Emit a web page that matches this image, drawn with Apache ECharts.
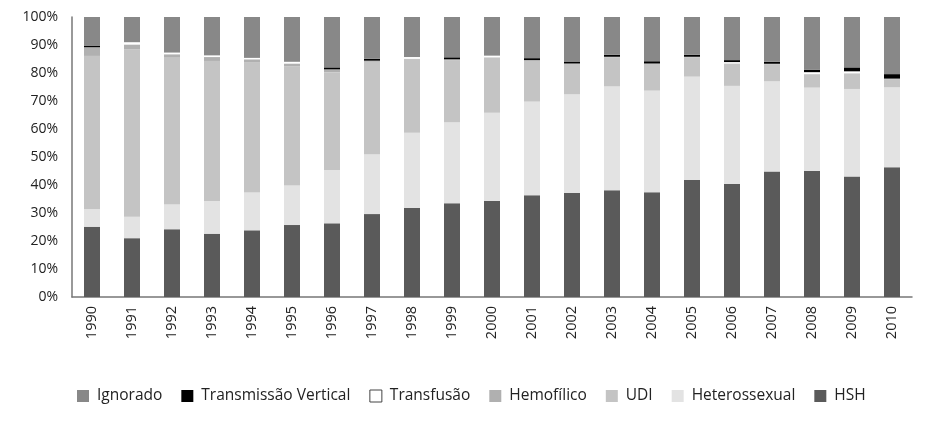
<!DOCTYPE html>
<html>
<head>
<meta charset="utf-8">
<script src="https://cdn.jsdelivr.net/npm/echarts@6/dist/echarts.min.js"></script>
<style>html,body{margin:0;padding:0;background:#fff}#c{width:927px;height:425px}</style>
</head>
<body>
<div id="c"></div>
<script>
const years = ['1990','1991','1992','1993','1994','1995','1996','1997','1998','1999','2000','2001','2002','2003','2004','2005','2006','2007','2008','2009','2010'];
const hsh      = [25.1,21.0,24.2,22.6,23.8,25.7,26.3,29.6,31.8,33.5,34.3,36.3,37.1,38.1,37.4,41.8,40.4,44.8,45.0,43.0,46.3];
const hetero   = [6.2,7.7,8.8,11.7,13.5,14.1,19.1,21.4,26.9,28.9,31.5,33.5,35.3,37.1,36.3,36.9,35.0,32.3,29.8,31.3,28.6];
const udi      = [54.8,59.7,52.5,50.0,46.5,42.6,34.9,33.0,26.1,22.2,19.6,14.6,10.8,10.4,9.5,6.9,7.8,6.0,4.6,5.4,2.9];
const hemo     = [3.1,1.8,1.2,1.4,1.1,1.0,1.0,0.4,0.3,0.3,0.2,0.2,0.2,0.2,0.2,0.2,0.2,0.2,0.2,0.2,0.2];
const transf   = [0,0.8,0.6,0.6,0.5,0.6,0,0,0.6,0,0.6,0,0,0,0,0,0.5,0,0.7,0.7,0];
const vertical = [0.6,0,0,0,0,0,0.7,0.7,0,0.7,0,0.7,0.7,0.7,0.8,0.7,0.7,0.7,0.9,1.4,1.6];
const ignorado = [10.2,9.0,12.7,13.7,14.6,16.0,18.0,14.9,14.3,14.4,13.8,14.7,15.9,13.5,15.8,13.5,15.4,16.0,18.8,18.0,20.4];
const yTicks = ['0%','10%','20%','30%','40%','50%','60%','70%','80%','90%','100%'];

const font = 'Open Sans';
const chart = echarts.init(document.getElementById('c'));
function s(name, data, color){
  return {name, type:'bar', stack:'t', data, barWidth:16, itemStyle:{color}, emphasis:{disabled:true}};
}
chart.setOption({
  animation:false,
  textStyle:{fontFamily:font},
  grid:{left:72, right:15, top:17, bottom:128},
  legend:{
    bottom:21, left:77, padding:0, icon:'rect', itemWidth:12, itemHeight:12, itemGap:19,
    textStyle:{fontFamily:font, fontSize:15.5, color:'#222', padding:[0,0,0,3]},
    data:[
      {name:'Ignorado'},
      {name:'Transmissão Vertical'},
      {name:'Transfusão', itemStyle:{color:'#fff', borderColor:'#444', borderWidth:1}},
      {name:'Hemofílico'},
      {name:'UDI'},
      {name:'Heterossexual'},
      {name:'HSH'}
    ]
  },
  xAxis:{
    type:'category', data:years,
    axisLine:{lineStyle:{color:'#777', width:1.5}},
    axisTick:{show:false},
    axisLabel:{rotate:90, fontSize:14.5, color:'#222', margin:9, fontFamily:font}
  },
  yAxis:{
    type:'value', min:0, max:100, interval:10,
    axisLine:{show:true, lineStyle:{color:'#777', width:1.5}},
    axisTick:{show:false},
    splitLine:{show:false},
    axisLabel:{fontSize:14, color:'#222', margin:14, fontFamily:font,
      formatter:(v)=>yTicks[Math.round(v/10)]}
  },
  series:[
    s('HSH', hsh, '#5a5a5a'),
    s('Heterossexual', hetero, '#e3e3e3'),
    s('UDI', udi, '#c4c4c4'),
    s('Hemofílico', hemo, '#b0b0b0'),
    s('Transfusão', transf, '#ffffff'),
    s('Transmissão Vertical', vertical, '#000000'),
    s('Ignorado', ignorado, '#888888')
  ]
});
</script>
</body>
</html>
